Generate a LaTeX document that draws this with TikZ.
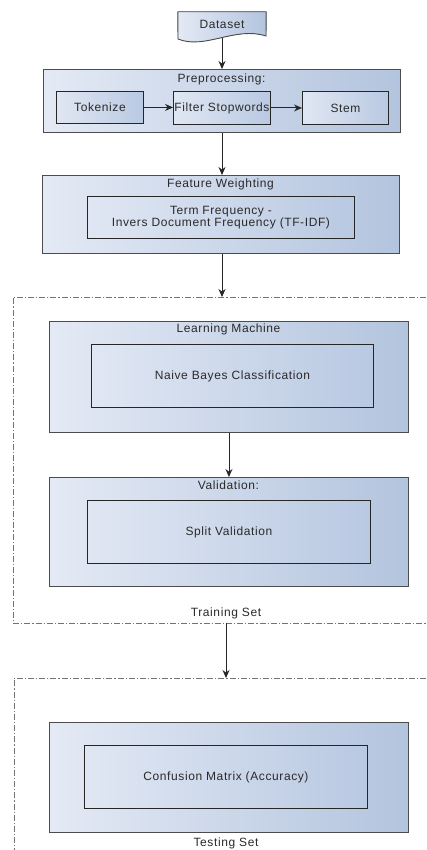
\documentclass[tikz,border=0pt]{standalone}
\usepackage{fontspec}
\setmainfont{Liberation Sans}[LetterSpace=5]
\usetikzlibrary{arrows.meta}
\definecolor{outL}{HTML}{E4EAF5}
\definecolor{outR}{HTML}{B3C4DE}
\definecolor{inL}{HTML}{E0E7F3}
\definecolor{inR}{HTML}{B9C9E2}
\definecolor{txt}{HTML}{2A2A2A}
\begin{document}
\begin{tikzpicture}[x=1pt,y=1pt,
  outer/.style={draw=black!70, line width=0.9pt, left color=outL, right color=outR, anchor=north west, inner sep=0pt},
  inner/.style={draw=black!85, line width=0.9pt, left color=inL, right color=inR, anchor=north west, inner sep=0pt, align=center, text=txt, font=\fontsize{12}{12}\selectfont},
  title/.style={inner sep=0pt, text=txt, font=\fontsize{12}{12}\selectfont},
  arr/.style={-{Stealth[length=8pt,width=7pt]}, line width=0.9pt, draw=black!85},
  grp/.style={draw=black!55, line width=0.8pt, dash pattern=on 6pt off 2pt on 1.2pt off 2pt},
]
\fill[white] (0,0) rectangle (426,-850);
\useasboundingbox (0,0) rectangle (426,-850);

% Dataset (document shape)
\node[minimum width=88pt, minimum height=26pt, inner sep=0pt] (ds) at (222,-25) {};
\fill[left color=outL, right color=outR] (ds.north west) -- (ds.north east) -- (266,-36)
  .. controls (235,-26) and (205,-50) .. (178,-39) -- cycle;
\draw[black!70, line width=0.9pt] (ds.north west) -- (ds.north east) -- (266,-36)
  .. controls (235,-26) and (205,-50) .. (178,-39) -- cycle;
\node[title] (dstext) at (222,-24) {Dataset};

% Preprocessing
\node[outer, minimum width=357pt, minimum height=63pt] (pre) at (43,-69) {};
\node[title] (pretitle) at (221.5,-79) {Preprocessing:};
\node[inner, minimum width=87pt, minimum height=32pt] (tok) at (56,-91) {Tokenize};
\node[inner, minimum width=97pt, minimum height=33pt] (filt) at (173,-91) {Filter Stopwords};
\node[inner, minimum width=86pt, minimum height=33pt] (stem) at (302,-91) {Stem};

% Feature weighting
\node[outer, minimum width=357pt, minimum height=78pt] (feat) at (42,-175) {};
\node[title] (feattitle) at (220.5,-184) {Feature Weighting};
\node[inner, minimum width=267pt, minimum height=42pt] (tfidf) at (87,-196) {Term Frequency -\\Invers Document Frequency (TF-IDF)};

% Training set group
\draw[grp] (426,-297) -- (13,-297) -- (13,-623) -- (426,-623);
\coordinate (trtop) at (222,-297);
\coordinate (trbot) at (226,-623);
\node[title] (trlabel) at (226,-613) {Training Set};

\node[outer, minimum width=359pt, minimum height=111pt] (learn) at (49,-321) {};
\node[title] (learntitle) at (228.5,-329) {Learning Machine};
\node[inner, minimum width=282pt, minimum height=63pt] (nb) at (91,-344) {Naive Bayes Classification};

\node[outer, minimum width=359pt, minimum height=109pt] (valid) at (49,-477) {};
\node[title] (validtitle) at (228.5,-485) {Validation:};
\node[inner, minimum width=283pt, minimum height=63pt] (split) at (87,-500) {Split Validation};

% Testing set group
\draw[grp] (426,-678) -- (14,-678) -- (14,-850);
\coordinate (tetop) at (226,-678);
\node[title] (telabel) at (226,-843) {Testing Set};

\node[outer, minimum width=359pt, minimum height=110pt] (conf) at (49,-722) {};
\node[inner, minimum width=283pt, minimum height=63pt] (acc) at (84,-745) {Confusion Matrix (Accuracy)};

% Arrows
\draw[arr] (ds.south) -- (ds.south |- pre.north);
\draw[arr] (tok.east) -- (tok.east -| filt.west);
\draw[arr] (filt.east) -- (filt.east -| stem.west);
\draw[arr] (pre.south -| ds.south) -- (feat.north -| ds.south);
\draw[arr] (feat.south -| trtop) -- (trtop);
\draw[arr] (learn.south) -- (valid.north -| learn.south);
\draw[arr] (trbot) -- (tetop);
\end{tikzpicture}
\end{document}
